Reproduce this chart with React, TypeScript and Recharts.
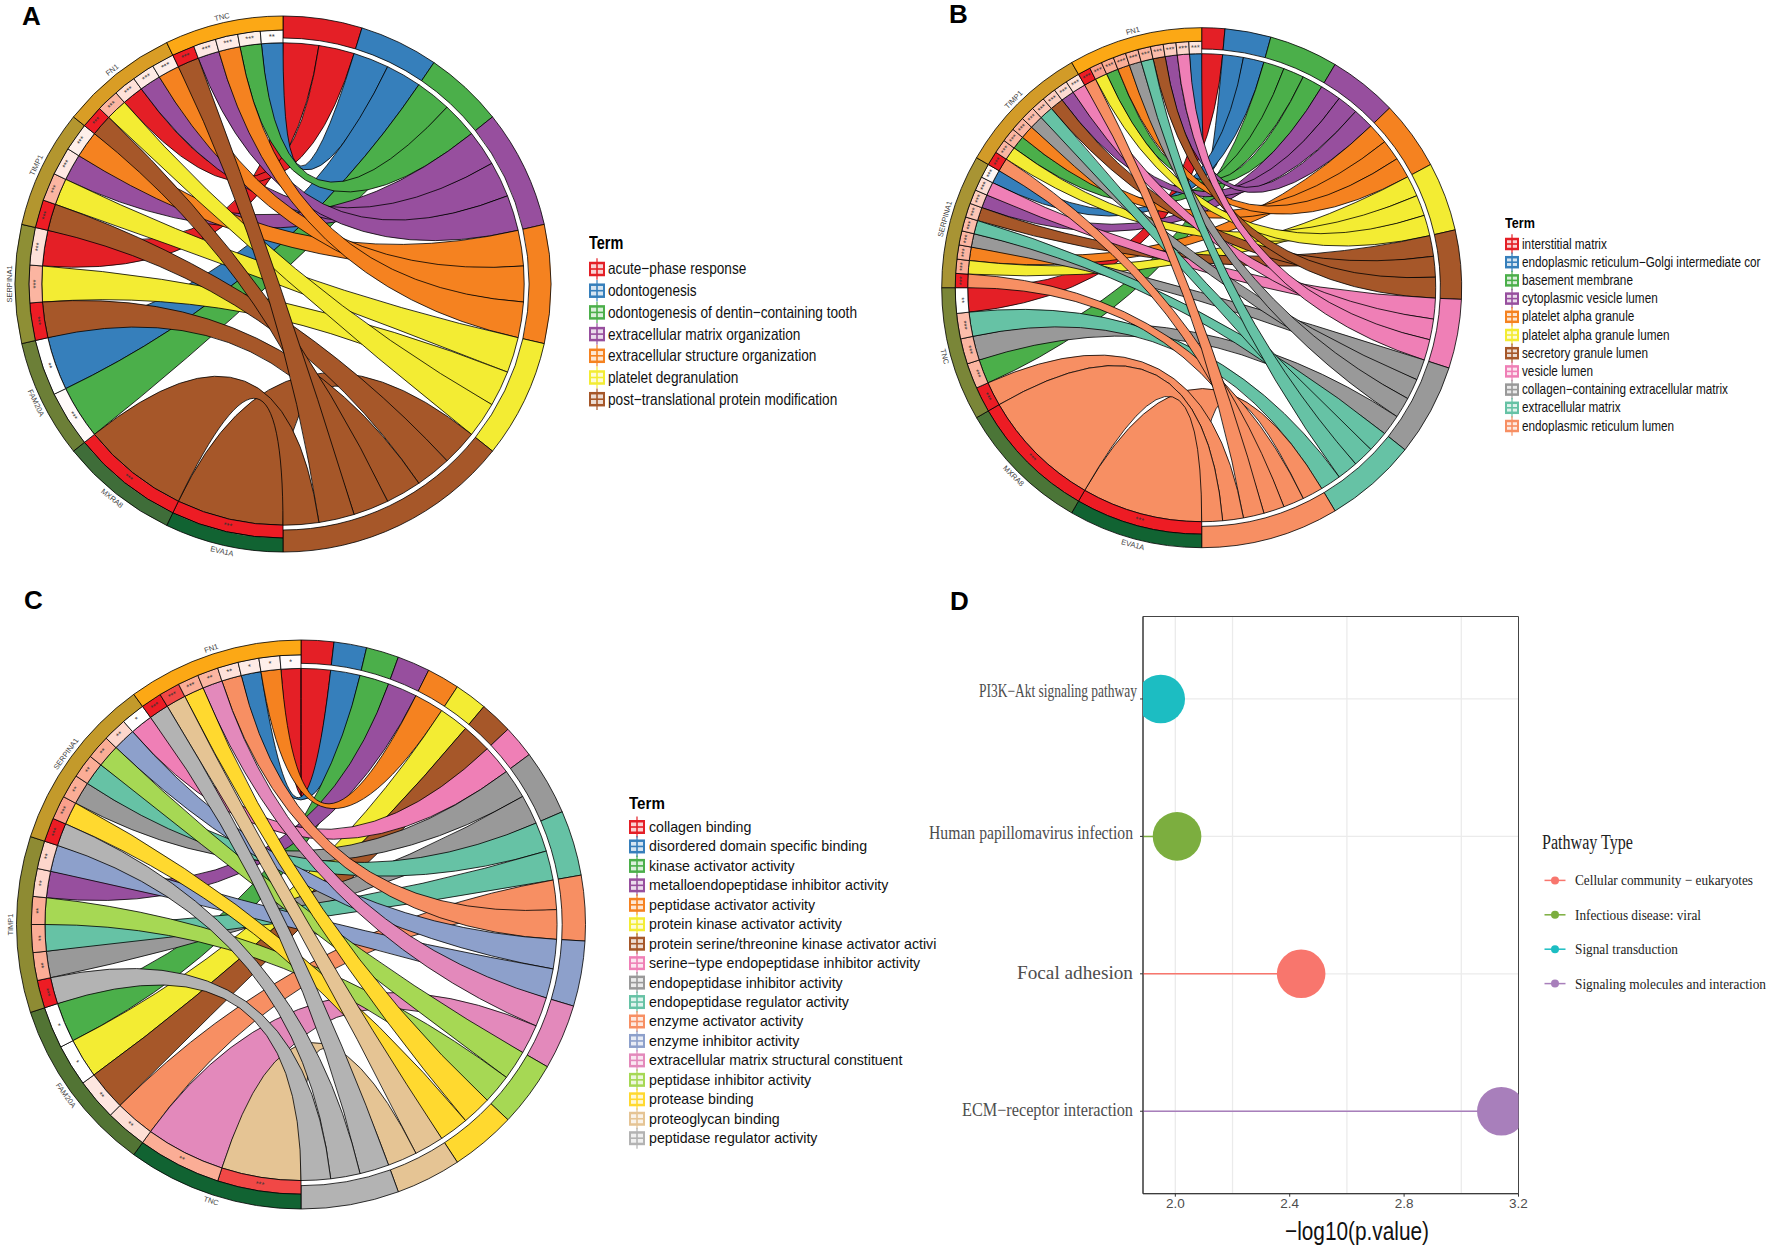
import {
  CartesianGrid,
  Label,
  Legend,
  Pie,
  PieChart,
  ReferenceArea,
  ReferenceLine,
  Scatter,
  ScatterChart,
  XAxis,
  YAxis,
} from 'recharts';

// genes run clockwise from the bottom, terms clockwise from the top
const SET1 = ['#e41f26', '#367fbb', '#4baf4a', '#974f9e', '#f58220', '#f3ec33', '#a65729', '#ef7fb6', '#999999'];
const SET2 = ['#66c2a5', '#f78f63', '#8da0cb', '#e389bb', '#a6d854', '#ffd92f', '#e5c494', '#b3b3b3'];

// panel A
const genesA = ['EVA1A', 'MXRA8', 'FAM20A', 'SERPINA1', 'TIMP1', 'FN1', 'TNC'];
const geneColorsA = ['#116332', '#3f6d39', '#6c7f37', '#8e8f35', '#b3962f', '#d99d25', '#fca815'];
const termsA = [
  'acute−phase response',
  'odontogenesis',
  'odontogenesis of dentin−containing tooth',
  'extracellular matrix organization',
  'extracellular structure organization',
  'platelet degranulation',
  'post−translational protein modification',
];
const termColorsA = [SET1[0], SET1[1], SET1[2], SET1[3], SET1[4], SET1[5], SET1[6]];
const linksA = [[6], [6], [2, 1], [6, 5, 0], [6, 5, 3, 4], [6, 5, 0, 3, 4], [6, 3, 4, 2, 1]];
const levelsA = [[1], [1], [0.03, 0], [1, 0.45, 0.18], [1, 0.45, 0.14, 0.1], [1, 0.45, 0.18, 0.12, 0.1], [1, 0.14, 0.12, 0.1, 0.02]];
const starsA = [
  ['***'],
  ['***'],
  ['***', '**'],
  ['***', '***', '***'],
  ['***', '***', '***', '***'],
  ['***', '***', '***', '***', '***'],
  ['***', '***', '***', '***', '**'],
];
const termGenesA = [[3, 5], [6, 2], [2, 6], [4, 5, 6], [4, 5, 6], [4, 3, 5], [0, 4, 3, 5, 6, 1]];

// panel B
const genesB = ['EVA1A', 'MXRA8', 'TNC', 'SERPINA1', 'TIMP1', 'FN1'];
const geneColorsB = ['#116332', '#4b7537', '#7a8638', '#a89434', '#d29b28', '#fca815'];
const termsB = [
  'interstitial matrix',
  'endoplasmic reticulum−Golgi intermediate cor',
  'basement membrane',
  'cytoplasmic vesicle lumen',
  'platelet alpha granule',
  'platelet alpha granule lumen',
  'secretory granule lumen',
  'vesicle lumen',
  'collagen−containing extracellular matrix',
  'extracellular matrix',
  'endoplasmic reticulum lumen',
];
const termColorsB = [...SET1, SET2[0], SET2[1]];
const linksB = [
  [10],
  [10],
  [10, 2, 8, 9, 0],
  [10, 5, 4, 8, 9, 6, 3, 7, 1],
  [10, 5, 2, 4, 8, 9, 6, 3, 7],
  [10, 5, 2, 4, 8, 9, 6, 3, 7, 1],
];
const levelsB = [
  [1],
  [1],
  [1, 0.45, 0.45, 0.4, 0],
  [1, 0.5, 0.45, 0.45, 0.4, 0.35, 0.3, 0.2, 0.05],
  [1, 0.45, 0.45, 0.45, 0.4, 0.35, 0.3, 0.22, 0.18],
  [1, 0.55, 0.5, 0.5, 0.45, 0.45, 0.4, 0.3, 0.25, 0.15],
];
const starsB = [
  ['***'],
  ['***'],
  ['***', '***', '***', '***', '**'],
  ['***', '***', '***', '***', '***', '***', '***', '***', '***'],
  ['***', '***', '***', '***', '***', '***', '***', '***', '***'],
  ['***', '***', '***', '***', '***', '***', '***', '***', '***', '***'],
];
const termGenesB = [[2], [5, 3], [2, 4, 5], [3, 4, 5], [3, 4, 5], [3, 4, 5], [3, 4, 5], [3, 4, 5], [3, 4, 5, 2], [3, 4, 5, 2], [0, 3, 4, 5, 2, 1]];

// panel C
const genesC = ['TNC', 'FAM20A', 'TIMP1', 'SERPINA1', 'FN1'];
const geneColorsC = ['#116332', '#527434', '#8e8b33', '#c39a2b', '#fca815'];
const termsC = [
  'collagen binding',
  'disordered domain specific binding',
  'kinase activator activity',
  'metalloendopeptidase inhibitor activity',
  'peptidase activator activity',
  'protein kinase activator activity',
  'protein serine/threonine kinase activator activi',
  'serine−type endopeptidase inhibitor activity',
  'endopeptidase inhibitor activity',
  'endopeptidase regulator activity',
  'enzyme activator activity',
  'enzyme inhibitor activity',
  'extracellular matrix structural constituent',
  'peptidase inhibitor activity',
  'protease binding',
  'proteoglycan binding',
  'peptidase regulator activity',
];
const termColorsC = [...SET1.slice(0, 8), SET1[8], ...SET2];
const linksC = [
  [15, 12],
  [10, 6, 5, 2],
  [16, 8, 9, 13, 3, 11],
  [16, 14, 8, 9, 13, 11, 7],
  [16, 15, 14, 12, 10, 1, 4, 0],
];
const levelsC = [
  [0.85, 0.5],
  [0.2, 0.15, 0, 0],
  [1, 0.5, 0.5, 0.5, 0.25, 0.25],
  [1, 0.55, 0.5, 0.5, 0.5, 0.25, 0],
  [1, 0.85, 0.5, 0.45, 0.18, 0.12, 0.1, 0.03],
];
const starsC = [
  ['***', '**'],
  ['**', '**', '*', '*'],
  ['***', '**', '**', '**', '**', '**'],
  ['***', '***', '**', '**', '**', '**', '*'],
  ['***', '***', '***', '**', '**', '*', '*', '*'],
];
const termGenesC = [[4], [4], [1], [2], [4], [1], [1], [3], [3, 2], [3, 2], [1, 4], [3, 2], [4, 0], [3, 2], [4, 3], [4, 0], [4, 3, 2]];

// panel D
const pathways = ['ECM−receptor interaction', 'Focal adhesion', 'Human papillomavirus infection', 'PI3K−Akt signaling pathway'];
const logP = [3.14, 2.44, 2.006, 1.949];
const pathwayColors = ['#a87fbb', '#f8766d', '#7cae3f', '#1cbdc2'];
const pathwayLabelWidths = [171, 116, 204, 158];
const pathwayLabelLift = [0, 0, 2, 7];
const pathwayLabelGap = [5, 5, 5, 1];
const pathwayTypes = ['Cellular community − eukaryotes', 'Infectious disease: viral', 'Signal transduction', 'Signaling molecules and interaction'];
const typeColors = ['#f8766d', '#7cae3f', '#1cbdc2', '#a87fbb'];
const typeWidths = [178, 126, 103, 191];
const xTicks = [2.0, 2.4, 2.8, 3.2];
const xMinor = [2.2, 2.6, 3.0];
const xMin = 1.887;

const hex = (c: string) => [1, 3, 5].map((i) => parseInt(c.slice(i, i + 2), 16));

function levelColor(level: number) {
  const stops = ['#ffffff', '#fbad96', '#ed1c24'];
  const t = Math.min(level, 0.999) * 2;
  const i = Math.floor(t);
  const a = hex(stops[i]);
  const b = hex(stops[i + 1]);
  const mix = a.map((v, k) => Math.round(v + (b[k] - v) * (t - i)));
  return `rgb(${mix.join(',')})`;
}

// clockwise degrees from 12 o'clock, as read back from recharts' midAngle
const clockAngle = (midAngle: number) => ((90 - midAngle) % 360 + 360) % 360;

function tangentLabel(props: any, text: string, radius: number, fontSize: number, fill: string) {
  const cw = clockAngle(props.midAngle);
  const rad = (cw * Math.PI) / 180;
  const x = props.cx + radius * Math.sin(rad);
  const y = props.cy - radius * Math.cos(rad);
  const rot = cw < 270 ? cw - 180 : cw - 360;
  return (
    <text
      key={`${text}-${props.index}`}
      x={x}
      y={y}
      dy="0.35em"
      textAnchor="middle"
      fontSize={fontSize}
      fontFamily="Liberation Sans"
      fill={fill}
      transform={`rotate(${rot} ${x} ${y})`}
    >
      {text}
    </text>
  );
}

function Ribbons({ cx, cy, r, links, termGenes, colors }: any) {
  const point = (deg: number) => {
    const rad = (deg * Math.PI) / 180;
    return `${cx + r * Math.sin(rad)} ${cy - r * Math.cos(rad)}`;
  };
  const total = links.flat().length;
  const rightStep = 180 / total;
  const leftStep = 180 / links.length;

  const paths: any[] = [];
  let pos = 0;
  termGenes.forEach((genes: number[], t: number) => {
    genes.forEach((g) => {
      const k = links[g].indexOf(t);
      const w = leftStep / links[g].length;
      const a = 180 + g * leftStep + k * w;
      const b = a + w;
      const c = pos;
      const d = pos + rightStep;
      pos = d;
      paths.push(
        <path
          key={`${t}-${g}`}
          d={`M${point(a)} A${r} ${r} 0 0 1 ${point(b)} Q${cx} ${cy} ${point(c)} A${r} ${r} 0 0 1 ${point(d)} Q${cx} ${cy} ${point(a)} Z`}
          fill={colors[t]}
          stroke="#000"
          strokeWidth={0.8}
        />,
      );
    });
  });
  return <g>{paths}</g>;
}

function TermKey({ x, y, w, h, color }: any) {
  const bw = (w - 5.6) / 2;
  const bh = (h - 6.6) / 2;
  return (
    <g>
      <line x1={x + w / 2} x2={x + w / 2} y1={y - 3.5} y2={y + h + 3.5} stroke={color} strokeWidth={1.2} />
      <rect x={x} y={y} width={w} height={h} fill={color} />
      <rect x={x + 2} y={y + 2.5} width={bw} height={bh} fill="#fff" opacity={0.8} />
      <rect x={x + w / 2 + 0.8} y={y + 2.5} width={bw} height={bh} fill="#fff" opacity={0.8} />
      <rect x={x + 2} y={y + h / 2 + 0.8} width={bw} height={bh} fill="#fff" opacity={0.8} />
      <rect x={x + w / 2 + 0.8} y={y + h / 2 + 0.8} width={bw} height={bh} fill="#fff" opacity={0.8} />
    </g>
  );
}

function ChordPanel(p: any) {
  const { genes, geneColors, terms, termColors, links, levels, stars, termGenes, cx, cy, r } = p;
  const geneRows = genes.map((name: string, i: number) => ({ name, value: 1, fill: geneColors[i] }));
  const termRows = terms.map((name: string, t: number) => ({ name, value: termGenes[t].length, fill: termColors[t] }));
  const cellRows = links.flatMap((terms_: number[], g: number) =>
    terms_.map((t, k) => ({
      name: `${genes[g]}:${t}`,
      value: 1 / terms_.length,
      stars: stars[g][k],
      fill: levelColor(levels[g][k]),
    })),
  );
  const ribbonR = r * 0.9;

  return (
    <div style={{ position: 'absolute', left: p.left, top: p.top }}>
      <PieChart width={p.width} height={p.height} margin={{ top: 0, right: 0, bottom: 0, left: 0 }}>
        <Ribbons cx={cx} cy={cy} r={ribbonR} links={links} termGenes={termGenes} colors={termColors} />
        <Pie
          data={termRows}
          dataKey="value"
          cx={cx}
          cy={cy}
          startAngle={90}
          endAngle={-90}
          innerRadius={r * 0.918}
          outerRadius={r}
          stroke="#000"
          strokeWidth={0.8}
          isAnimationActive={false}
        />
        <Pie
          data={cellRows}
          dataKey="value"
          cx={cx}
          cy={cy}
          startAngle={-90}
          endAngle={-270}
          innerRadius={ribbonR}
          outerRadius={r * 0.948}
          stroke="#000"
          strokeWidth={0.8}
          isAnimationActive={false}
          labelLine={false}
          label={(props: any) => tangentLabel(props, props.payload?.stars ?? props.stars, r * 0.924, 7.5, '#333')}
        />
        <Pie
          data={geneRows}
          dataKey="value"
          cx={cx}
          cy={cy}
          startAngle={-90}
          endAngle={-270}
          innerRadius={r * 0.948}
          outerRadius={r}
          stroke="#000"
          strokeWidth={0.8}
          isAnimationActive={false}
          labelLine={false}
          label={(props: any) => tangentLabel(props, props.name, r + 6, 7.5, '#444')}
        />
        <Legend
          verticalAlign="middle"
          wrapperStyle={{ left: p.legendX, top: 0, bottom: 'auto', width: p.legendW, height: p.height, overflow: 'hidden' }}
          content={() => (
            <svg width={p.legendW} height={p.height}>
              <text
                transform={`translate(0 ${p.termY + p.font * 0.36}) scale(${p.squeeze} 1)`}
                fontFamily="Liberation Sans"
                fontWeight="bold"
                fontSize={p.font + 1}
              >
                Term
              </text>
              {terms.map((name: string, t: number) => {
                const y = p.firstY + t * p.pitch;
                return (
                  <g key={name}>
                    <TermKey x={0} y={y - p.keyH / 2} w={p.keyW} h={p.keyH} color={termColors[t]} />
                    <text
                      transform={`translate(${p.keyW + p.gap} ${y + p.font * 0.33}) scale(${p.squeeze} 1)`}
                      fontFamily="Liberation Sans"
                      fontSize={p.font}
                      fill="#111"
                    >
                      {name}
                    </text>
                  </g>
                );
              })}
            </svg>
          )}
        />
      </PieChart>
    </div>
  );
}

function PathwayTick({ x, y, payload }: any) {
  const i = payload.value - 1;
  return (
    <text
      x={x - pathwayLabelGap[i]}
      y={y - pathwayLabelLift[i] + 5}
      textAnchor="end"
      fontFamily="Liberation Serif"
      fontSize={18}
      fill="#4d4d4d"
      textLength={pathwayLabelWidths[i]}
      lengthAdjust="spacingAndGlyphs"
    >
      {pathways[i]}
    </text>
  );
}

function LollipopPanel() {
  const rows = pathways.map((name, i) => ({ name, x: logP[i], y: i + 1 }));
  return (
    <div style={{ position: 'absolute', left: 900, top: 580 }}>
      <ScatterChart width={873} height={671} margin={{ top: 36.5, right: 254.5, bottom: 17.3, left: 0 }}>
        <CartesianGrid stroke="#ebebeb" strokeWidth={1.3} verticalValues={[...xTicks, ...xMinor]} horizontalValues={[1, 2, 3, 4]} />
        <XAxis
          type="number"
          dataKey="x"
          domain={[xMin, 3.2]}
          ticks={xTicks}
          allowDataOverflow
          height={40}
          tickFormatter={(v: number) => v.toFixed(1)}
          tick={{ fontSize: 13.5, fill: '#4d4d4d', fontFamily: 'Liberation Sans' }}
          tickSize={3}
          stroke="#333"
        >
          <Label
            content={() => (
              <text
                transform="translate(457 660) scale(0.8 1)"
                textAnchor="middle"
                fontFamily="Liberation Sans"
                fontSize={26}
                fill="#111"
              >
                −log10(p.value)
              </text>
            )}
          />
        </XAxis>
        <YAxis
          type="number"
          dataKey="y"
          domain={[0.4, 4.6]}
          ticks={[1, 2, 3, 4]}
          width={243}
          tick={<PathwayTick />}
          tickSize={3}
          stroke="#333"
        />
        {rows.map((row, i) => (
          <ReferenceLine
            key={row.name}
            segment={[{ x: xMin, y: row.y }, { x: row.x, y: row.y }]}
            stroke={pathwayColors[i]}
            strokeWidth={1.5}
          />
        ))}
        {rows.map((row, i) => (
          <Scatter
            key={row.name}
            data={[row]}
            isAnimationActive={false}
            shape={(s: any) => <circle cx={s.cx} cy={s.cy} r={24.3} fill={pathwayColors[i]} />}
          />
        ))}
        <ReferenceArea x1={xMin} x2={3.2} y1={0.4} y2={4.6} fill="none" stroke="#444" strokeWidth={1} />
        <Legend
          verticalAlign="middle"
          wrapperStyle={{ left: 640, top: 240, bottom: 'auto', width: 231, height: 180 }}
          content={() => (
            <svg width={231} height={180}>
              <text x={2} y={29} fontFamily="Liberation Serif" fontSize={20} fill="#222" textLength={91} lengthAdjust="spacingAndGlyphs">
                Pathway Type
              </text>
              {pathwayTypes.map((name, i) => {
                const y = 60.4 + i * 34.4;
                return (
                  <g key={name}>
                    <line x1={4.5} x2={25.5} y1={y} y2={y} stroke={typeColors[i]} strokeWidth={1.5} />
                    <circle cx={15} cy={y} r={4} fill={typeColors[i]} />
                    <text x={35} y={y + 5} fontFamily="Liberation Serif" fontSize={15} fill="#222" textLength={typeWidths[i]} lengthAdjust="spacingAndGlyphs">
                      {name}
                    </text>
                  </g>
                );
              })}
            </svg>
          )}
        />
      </ScatterChart>
    </div>
  );
}

const panelLabel = (text: string, left: number, top: number) => (
  <div
    style={{
      position: 'absolute',
      left,
      top,
      fontFamily: 'Liberation Sans',
      fontWeight: 'bold',
      fontSize: 26,
      lineHeight: '26px',
      color: '#000',
    }}
  >
    {text}
  </div>
);

export default function App() {
  return (
    <div style={{ position: 'absolute', left: 0, top: 0, width: 1773, height: 1251, background: '#fff', overflow: 'hidden' }}>
      <ChordPanel
        left={0} top={0} width={900} height={570} cx={283} cy={284} r={268}
        genes={genesA} geneColors={geneColorsA} terms={termsA} termColors={termColorsA}
        links={linksA} levels={levelsA} stars={starsA} termGenes={termGenesA}
        legendX={589} legendW={300} termY={243} firstY={269} pitch={21.7} font={16.5} squeeze={0.827} keyW={16} keyH={14.5} gap={3}
      />
      <ChordPanel
        left={900} top={0} width={873} height={570} cx={301.7} cy={287.7} r={260}
        genes={genesB} geneColors={geneColorsB} terms={termsB} termColors={termColorsB}
        links={linksB} levels={levelsB} stars={starsB} termGenes={termGenesB}
        legendX={605} legendW={259} termY={223} firstY={244} pitch={18.2} font={14} squeeze={0.84} keyW={14} keyH={12.5} gap={3}
      />
      <ChordPanel
        left={0} top={570} width={940} height={681} cx={301} cy={354.5} r={284.5}
        genes={genesC} geneColors={geneColorsC} terms={termsC} termColors={termColorsC}
        links={linksC} levels={levelsC} stars={starsC} termGenes={termGenesC}
        legendX={629} legendW={309} termY={233.5} firstY={257} pitch={19.45} font={15} squeeze={0.945} keyW={16} keyH={14} gap={4}
      />
      <LollipopPanel />
      {panelLabel('A', 22, 3)}
      {panelLabel('B', 949, 1)}
      {panelLabel('C', 24, 587)}
      {panelLabel('D', 950, 588)}
    </div>
  );
}
